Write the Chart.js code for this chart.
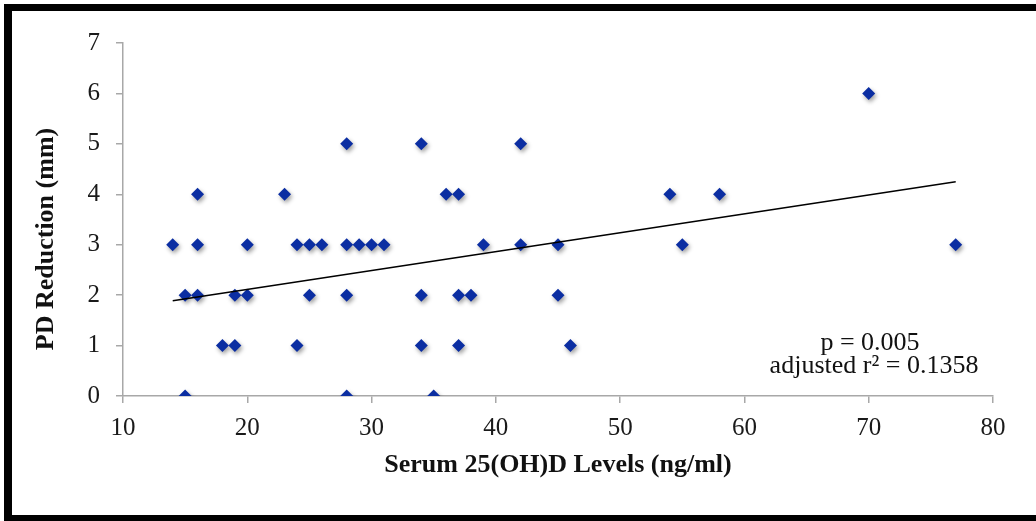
<!DOCTYPE html>
<html>
<head>
<meta charset="utf-8">
<script src="https://cdn.jsdelivr.net/npm/chart.js@4.4.1/dist/chart.umd.min.js"></script>
<style>
  html, body { margin: 0; padding: 0; background: #ffffff; }
  body { width: 1036px; height: 521px; overflow: hidden; position: relative; }
  #c { position: absolute; left: 0; top: 0; }
  #frame {
    position: absolute; left: 4px; top: 4px; width: 1100px; height: 519px;
    box-sizing: border-box; border-style: solid; border-color: #000;
    border-width: 7px 8px 8px 8px; pointer-events: none;
  }
</style>
</head>
<body>
<canvas id="c" width="1036" height="521"></canvas>
<div id="frame"></div>
<script>
// Serum 25(OH)D level (ng/ml) for each subject
const vitaminD = [14, 15, 15, 16, 16, 16, 18, 19, 19, 20, 20, 23, 24, 24, 25, 25, 26,
  28, 28, 28, 28, 29, 30, 31, 34, 34, 34, 35, 36, 37, 37, 37, 38, 39, 42, 42,
  45, 45, 46, 54, 55, 58, 70, 77];
// PD reduction (mm) for each subject
const pdReduction = [3, 2, 0, 4, 3, 2, 1, 1, 2, 2, 3, 4, 3, 1, 3, 2, 3,
  5, 3, 2, 0, 3, 3, 3, 5, 2, 1, 0, 4, 4, 2, 1, 2, 3, 5, 3,
  3, 2, 1, 4, 3, 4, 6, 3];
// Linear trend line end points
const trendX = [14, 77];
const trendY = [1.89, 4.25];
// Axis tick values
const xTickValues = [10, 20, 30, 40, 50, 60, 70, 80];
const yTickValues = [0, 1, 2, 3, 4, 5, 6, 7];
// Texts
const xTitle = 'Serum 25(OH)D Levels (ng/ml)';
const yTitle = 'PD Reduction (mm)';
const statLines = ['p = 0.005', 'adjusted r\u00B2 = 0.1358'];

const FONT = "'Liberation Serif', 'DejaVu Serif', serif";
const AXIS_GREY = '#a8a8a8';
const BLUE = '#0b2ea2';

const points = vitaminD.map((x, i) => ({ x: x, y: pdReduction[i] }));
const trend = trendX.map((x, i) => ({ x: x, y: trendY[i] }));

const shadowPlugin = {
  id: 'markerShadow',
  beforeDatasetDraw(chart, args) {
    if (args.index !== 0) return;
    const ctx = chart.ctx;
    ctx.save();
    ctx.shadowColor = 'rgba(0,0,0,0.38)';
    ctx.shadowBlur = 4;
    ctx.shadowOffsetX = 1.5;
    ctx.shadowOffsetY = 2.5;
  },
  afterDatasetDraw(chart, args) {
    if (args.index !== 0) return;
    chart.ctx.restore();
  }
};

const textPlugin = {
  id: 'extraText',
  afterDraw(chart) {
    const ctx = chart.ctx;
    ctx.save();
    // y axis title
    ctx.translate(46, 239);
    ctx.rotate(-Math.PI / 2);
    ctx.font = "bold 26px " + FONT;
    ctx.fillStyle = '#111';
    ctx.textAlign = 'center';
    ctx.textBaseline = 'middle';
    ctx.fillText(yTitle, 0, 0);
    ctx.restore();

    ctx.save();
    ctx.font = "26px " + FONT;
    ctx.fillStyle = '#111';
    ctx.textAlign = 'center';
    ctx.textBaseline = 'alphabetic';
    ctx.fillText(statLines[0], 870, 350);
    ctx.fillText(statLines[1], 874, 373);
    ctx.restore();
  }
};

new Chart(document.getElementById('c'), {
  type: 'scatter',
  data: {
    datasets: [
      {
        label: 'PD reduction',
        data: points,
        pointStyle: 'rectRot',
        pointRadius: 6.5,
        backgroundColor: BLUE,
        borderColor: BLUE,
        borderWidth: 0,
        order: 1
      },
      {
        type: 'line',
        label: 'Linear trend',
        data: trend,
        borderColor: '#000',
        borderWidth: 1.6,
        pointRadius: 0,
        fill: false,
        tension: 0,
        order: 0
      }
    ]
  },
  options: {
    responsive: false,
    animation: false,
    devicePixelRatio: 1,
    events: [],
    layout: { padding: { top: 43, right: 43, left: 0, bottom: 0 } },
    plugins: {
      legend: { display: false },
      tooltip: { enabled: false }
    },
    scales: {
      x: {
        type: 'linear',
        min: 10,
        max: 80,
        afterBuildTicks(s) { s.ticks = xTickValues.map(v => ({ value: v })); },
        afterFit(s) { s.height = 125; },
        ticks: { font: { family: FONT, size: 25 }, color: '#1a1a1a', padding: 10, maxRotation: 0 },
        grid: { drawOnChartArea: false, drawTicks: true, tickLength: 7, color: AXIS_GREY, lineWidth: 1.5 },
        border: { display: true, color: AXIS_GREY, width: 1.5 },
        title: {
          display: true, text: xTitle, color: '#111',
          font: { family: FONT, size: 26, weight: 'bold' },
          padding: { top: 0, bottom: 40 }
        }
      },
      y: {
        type: 'linear',
        min: 0,
        max: 7,
        afterBuildTicks(s) { s.ticks = yTickValues.map(v => ({ value: v })); },
        afterFit(s) { s.width = 123; },
        ticks: { font: { family: FONT, size: 25 }, color: '#1a1a1a', padding: 16 },
        grid: { drawOnChartArea: false, drawTicks: true, tickLength: 7, color: AXIS_GREY, lineWidth: 1.5 },
        border: { display: true, color: AXIS_GREY, width: 1.5 }
      }
    }
  },
  plugins: [shadowPlugin, textPlugin]
});
</script>
</body>
</html>
